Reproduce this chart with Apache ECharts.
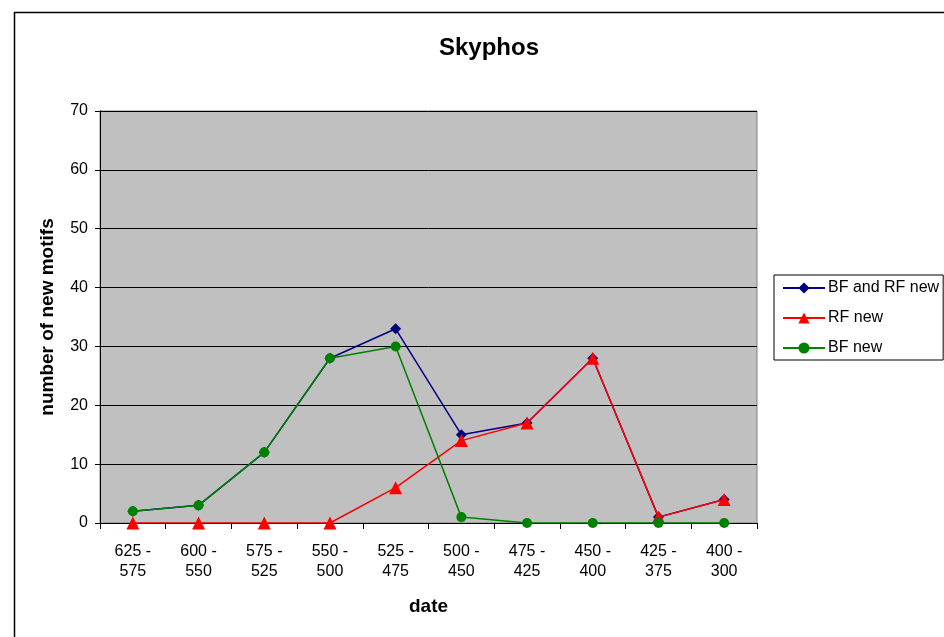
<!DOCTYPE html>
<html>
<head>
<meta charset="utf-8">
<script src="https://cdn.jsdelivr.net/npm/echarts@6/dist/echarts.min.js"></script>
<style>
  html, body { margin: 0; padding: 0; background: #fff; }
  #chart { width: 944px; height: 637px; }
</style>
</head>
<body>
<div id="chart"></div>
<script>
// date ranges (BC)
const dates = ["625 -\n575", "600 -\n550", "575 -\n525", "550 -\n500", "525 -\n475",
  "500 -\n450", "475 -\n425", "450 -\n400", "425 -\n375", "400 -\n300"];
const bfAndRfNew = [2, 3, 12, 28, 33, 15, 17, 28, 1, 4];
const rfNew = [0, 0, 0, 0, 6, 14, 17, 28, 1, 4];
const bfNew = [2, 3, 12, 28, 30, 1, 0, 0, 0, 0];

const font = "Liberation Sans, Arial, sans-serif";
const chart = echarts.init(document.getElementById("chart"));

chart.setOption({
  animation: false,
  textStyle: { fontFamily: font, color: "#000" },
  title: {
    text: "Skyphos",
    left: 484,
    top: 31,
    textAlign: "center",
    textStyle: { fontSize: 24, fontWeight: "bold", color: "#000", fontFamily: font },
  },
  graphic: [
    {
      type: "rect",
      shape: { x: 14.5, y: 12.5, width: 940, height: 650 },
      style: { fill: "none", stroke: "#000", lineWidth: 1.5 },
      silent: true,
    },
  ],
  legend: {
    orient: "vertical",
    left: 774,
    top: 275,
    width: 169,
    height: 86,
    padding: [5, 4, 4, 8],
    itemGap: 14,
    itemWidth: 42,
    itemHeight: 14,
    borderColor: "#000",
    borderWidth: 1,
    backgroundColor: "#fff",
    textStyle: { fontSize: 16, color: "#000", fontFamily: font, padding: [0, 0, 0, -2] },
    data: ["BF and RF new", "RF new", "BF new"],
  },
  grid: {
    left: 100,
    right: 944 - 757,
    top: 111,
    bottom: 637 - 523,
    show: true,
    backgroundColor: "#c0c0c0",
    borderColor: "#808080",
    borderWidth: 1,
  },
  xAxis: {
    type: "category",
    data: dates,
    boundaryGap: true,
    name: "date",
    nameLocation: "middle",
    nameGap: 74,
    nameTextStyle: { fontSize: 19, fontWeight: "bold", color: "#000", fontFamily: font },
    axisLine: { lineStyle: { color: "#000", width: 1 } },
    axisTick: { show: true, inside: false, length: 6, alignWithLabel: false, lineStyle: { color: "#000" } },
    axisLabel: { fontSize: 16, color: "#000", lineHeight: 20, margin: 19, interval: 0, align: "center" },
    splitLine: { show: false },
  },
  yAxis: {
    type: "value",
    min: 0,
    max: 70,
    interval: 10,
    name: "number of new motifs",
    nameLocation: "middle",
    nameGap: 43,
    nameTextStyle: { fontSize: 19, fontWeight: "bold", color: "#000", fontFamily: font },
    axisLine: { show: true, lineStyle: { color: "#000", width: 1 } },
    axisTick: { show: true, inside: false, length: 5, lineStyle: { color: "#000" } },
    axisLabel: { fontSize: 16, color: "#000", margin: 12 },
    splitLine: { show: true, lineStyle: { color: "#000", width: 1 } },
  },
  series: [
    {
      name: "BF and RF new",
      type: "line",
      data: bfAndRfNew,
      symbol: "diamond",
      symbolSize: 11,
      color: "#000080",
      lineStyle: { width: 1.5, color: "#000080" },
      itemStyle: { color: "#000080" },
      z: 2,
    },
    {
      name: "RF new",
      type: "line",
      data: rfNew,
      symbol: "triangle",
      symbolSize: 13,
      color: "#ff0000",
      lineStyle: { width: 1.5, color: "#ff0000" },
      itemStyle: { color: "#ff0000" },
      z: 3,
    },
    {
      name: "BF new",
      type: "line",
      data: bfNew,
      symbol: "circle",
      symbolSize: 10,
      color: "#008000",
      lineStyle: { width: 1.5, color: "#008000" },
      itemStyle: { color: "#008000" },
      z: 4,
    },
  ],
});
</script>
</body>
</html>
